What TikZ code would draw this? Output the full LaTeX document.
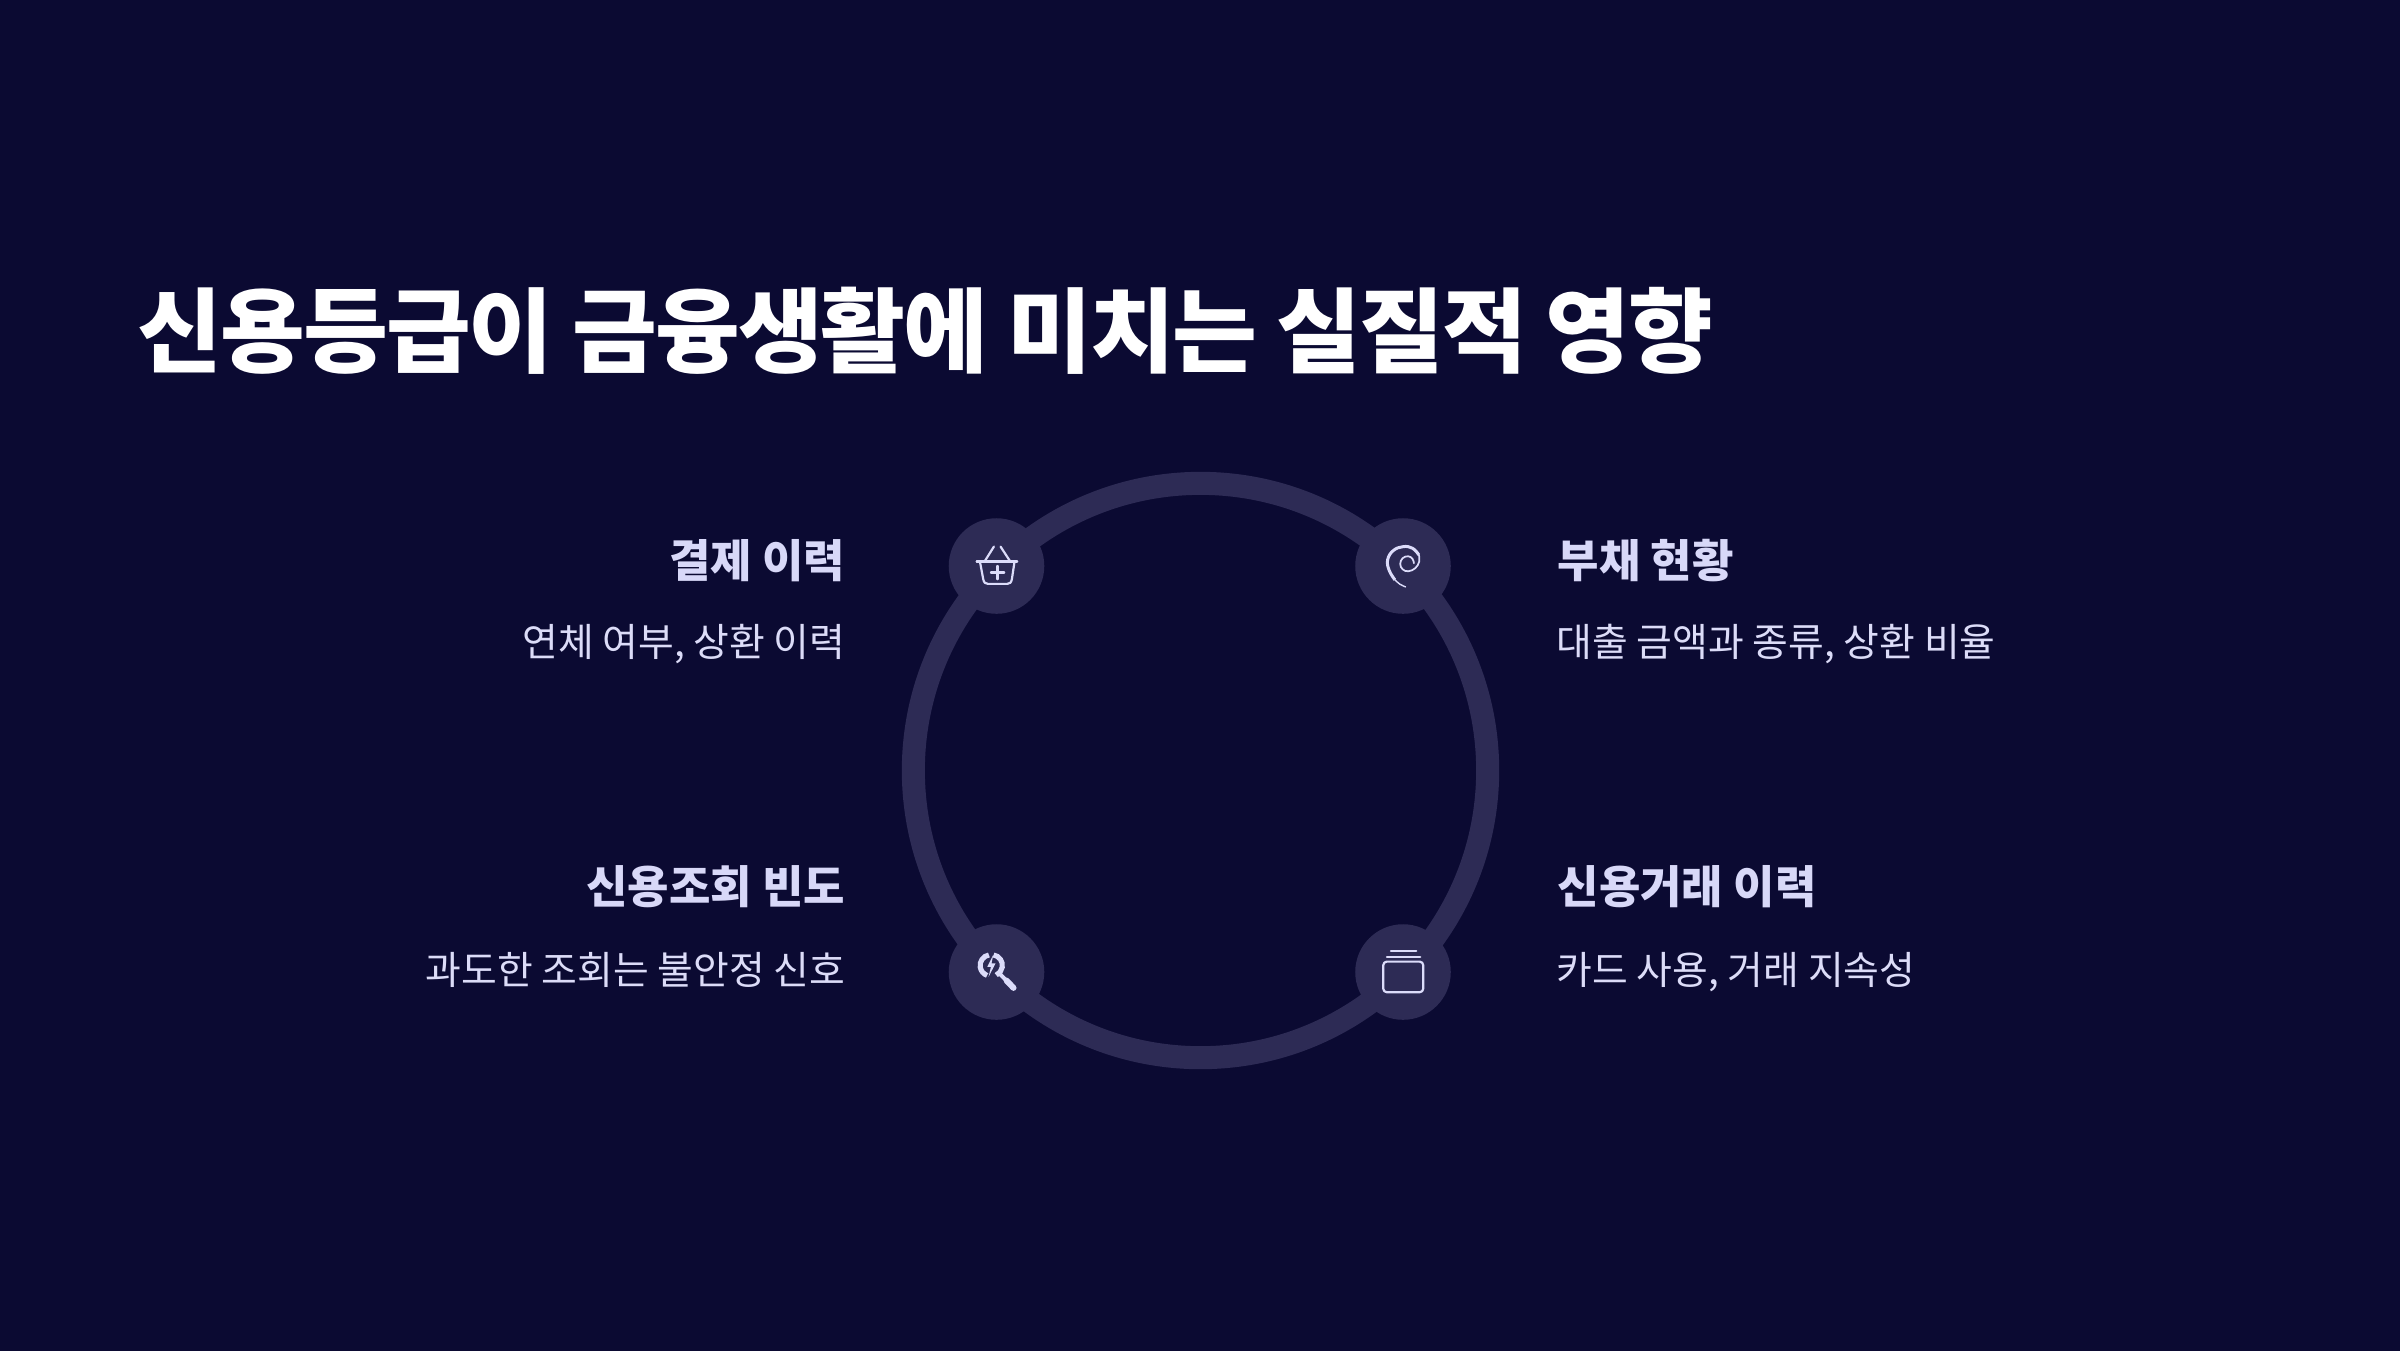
\documentclass[tikz,border=0pt]{standalone}
\usepackage{fontspec}
\setmainfont{Noto Sans CJK KR}
\newfontfamily\titlefont[LetterSpace=-2.2]{Noto Sans CJK KR}
\definecolor{bgc}{HTML}{0B0A32}
\definecolor{ringc}{HTML}{2D2B55}
\definecolor{iconc}{HTML}{DCDCFA}
\definecolor{headc}{HTML}{D8D8F8}
\definecolor{subc}{HTML}{DCDCF8}
\tikzset{
  titletext/.style={inner sep=0pt,text=white,font=\titlefont\fontsize{26.2pt}{32pt}\selectfont\bfseries},
  headtext/.style={inner sep=0pt,text=headc,font=\fontsize{12.8pt}{15pt}\selectfont\bfseries},
  subtext/.style={inner sep=0pt,text=subc,font=\fontsize{11.05pt}{13pt}\selectfont},
  badge/.style={circle,fill=ringc,draw=none,minimum size=0.955cm,inner sep=0pt},
  iconline/.style={draw=iconc,line width=0.62pt,line cap=round,line join=round},
}
\begin{document}
\begin{tikzpicture}[x=0.01cm,y=-0.01cm]
\useasboundingbox (0,0) rectangle (2400,1350);
\fill[bgc] (-10,-10) rectangle (2410,1360);
\node[circle,draw=ringc,line width=6.55pt,minimum size=5.74cm,inner sep=0pt] (ring) at (1200.5,770.5) {};
\node[badge] (b1) at (996.5,566) {};
\node[badge] (b2) at (1403,566) {};
\node[badge] (b3) at (996.5,972) {};
\node[badge] (b4) at (1403,972) {};
\node[titletext,anchor=base west] (title) at (137,365) {신용등급이 금융생활에 미치는 실질적 영향};
\node[headtext,anchor=base east] (h1) at (846,577) {결제 이력};
\node[subtext,anchor=base east] (s1) at (846,656) {연체 여부, 상환 이력};
\node[headtext,anchor=base west] (h2) at (1557,577) {부채 현황};
\node[subtext,anchor=base west] (s2) at (1556,656) {대출 금액과 종류, 상환 비율};
\node[headtext,anchor=base east] (h3) at (846,903) {신용조회 빈도};
\node[subtext,anchor=base east] (s3) at (846,984) {과도한 조회는 불안정 신호};
\node[headtext,anchor=base west] (h4) at (1557,903) {신용거래 이력};
\node[subtext,anchor=base west] (s4) at (1556,984) {카드 사용, 거래 지속성};
% basket
\begin{scope}[shift={(930,500)},x=0.003333cm,y=-0.003333cm]
\draw[iconline] (140,185) -- (262,185);
\draw[iconline] (165,183) -- (192,140) (240,183) -- (212,140);
\draw[iconline] (150,185) -- (160,238) .. controls (162,248) and (166,252) .. (174,252) -- (232,252) .. controls (240,252) and (244,248) .. (246,238) -- (254,185);
\draw[iconline] (183,218) -- (223,218) (203,198) -- (203,238);
\end{scope}
% swirl
\begin{scope}[shift={(1340,500)},x=0.003333cm,y=-0.003333cm]
\draw[iconline,line width=0.85pt,line cap=butt] plot[smooth,tension=0.7] coordinates {(165,240) (148,212) (143,180) (160,152) (190,140) (218,145) (237,165)};
\draw[iconline,line width=0.4pt] plot[smooth,tension=0.7] coordinates {(197,261) (180,253) (165,240)};
\draw[iconline,line width=0.5pt] plot[smooth,tension=0.7] coordinates {(237,165) (238,185) (226,205) (205,214) (188,208) (181,192) (188,175) (205,169) (218,177) (222,190)};
\end{scope}
% search with bolt
\begin{scope}[shift={(930,905)},x=0.003333cm,y=-0.003333cm]
\draw[draw=iconc,line width=1.45pt] (177,150) arc[start angle=-100,end angle=-250,radius=32];
\draw[draw=iconc,line width=1.45pt] (191,150) arc[start angle=-80,end angle=65,radius=32];
\fill[iconc] (190,150) -- (172,186) -- (183,186) -- (176,216) -- (197,175) -- (185,175) -- cycle;
\draw[draw=iconc,line width=1.1pt] (210,207) -- (232,229);
\draw[draw=iconc,line width=1.7pt,line cap=round] (230,227) -- (251,249);
\end{scope}
% cards
\begin{scope}[shift={(1340,905)},x=0.003333cm,y=-0.003333cm]
\draw[iconline,rounded corners=0.035cm] (130,170) rectangle (250,262);
\draw[iconline] (141,156) -- (241,156);
\draw[iconline] (153,139) -- (229,139);
\end{scope}
\end{tikzpicture}
\end{document}
